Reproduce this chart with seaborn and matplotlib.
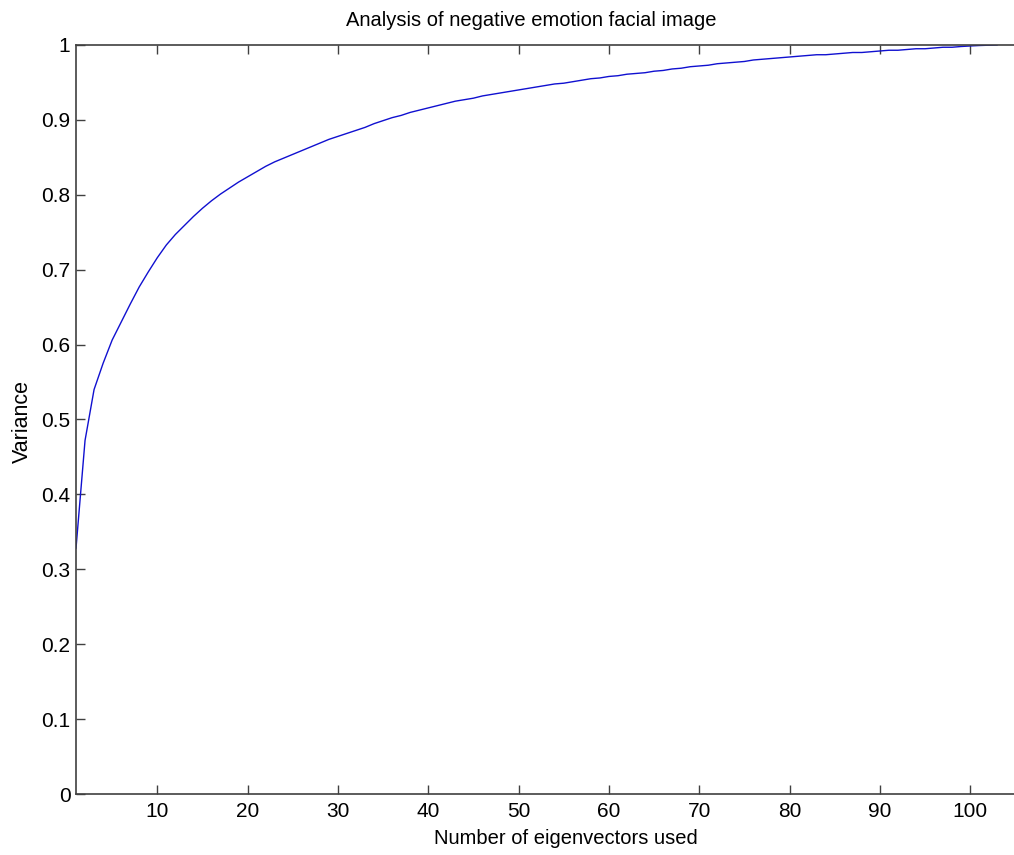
import numpy as np
import pandas as pd
import matplotlib
matplotlib.use("Agg")
import matplotlib.pyplot as plt
import seaborn as sns

# Data
eigenvectors = list(range(1, 104))
variance = [
    0.328, 0.472, 0.540, 0.575, 0.606, 0.630, 0.654, 0.677, 0.697, 0.716,
    0.733, 0.747, 0.759, 0.771, 0.782, 0.792, 0.801, 0.809, 0.817, 0.824,
    0.831, 0.838, 0.844, 0.849, 0.854, 0.859, 0.864, 0.869, 0.874, 0.878,
    0.882, 0.886, 0.890, 0.895, 0.899, 0.903, 0.906, 0.910, 0.913, 0.916,
    0.919, 0.922, 0.925, 0.927, 0.929, 0.932, 0.934, 0.936, 0.938, 0.940,
    0.942, 0.944, 0.946, 0.948, 0.949, 0.951, 0.953, 0.955, 0.956, 0.958,
    0.959, 0.961, 0.962, 0.963, 0.965, 0.966, 0.968, 0.969, 0.971, 0.972,
    0.973, 0.975, 0.976, 0.977, 0.978, 0.980, 0.981, 0.982, 0.983, 0.984,
    0.985, 0.986, 0.987, 0.987, 0.988, 0.989, 0.990, 0.990, 0.991, 0.992,
    0.993, 0.993, 0.994, 0.995, 0.995, 0.996, 0.997, 0.997, 0.998, 0.9987,
    0.9993, 0.9997, 1.0,
]
x_ticks = [10, 20, 30, 40, 50, 60, 70, 80, 90, 100]
y_ticks = [0, 0.1, 0.2, 0.3, 0.4, 0.5, 0.6, 0.7, 0.8, 0.9, 1]
y_tick_labels = ["0", "0.1", "0.2", "0.3", "0.4", "0.5", "0.6", "0.7", "0.8", "0.9", "1"]

title = "Analysis of negative emotion facial image"
xlabel = "Number of eigenvectors used"
ylabel = "Variance"

sns.set_style("white")
plt.rcParams["font.family"] = ["Liberation Sans", "DejaVu Sans"]
plt.rcParams["text.color"] = "black"

df = pd.DataFrame({"n": eigenvectors, "variance": variance})

W, H = 1014, 855
fig = plt.figure(figsize=(W / 100, H / 100), dpi=100)
ax = fig.add_axes([76 / W, (H - 794) / H, (W - 76) / W, (794 - 45) / H])

sns.lineplot(data=df, x="n", y="variance", ax=ax, color="#1010d0", linewidth=1.0)

ax.set_xlim(1, 104.85)
ax.set_ylim(0, 1)
ax.set_xticks(x_ticks)
ax.set_xticklabels([str(t) for t in x_ticks])
ax.set_yticks(y_ticks)
ax.set_yticklabels(y_tick_labels)
ax.set_xlabel("")
ax.set_ylabel("")

spine_color = "#404040"
for side in ["left", "bottom", "top"]:
    ax.spines[side].set_visible(True)
    ax.spines[side].set_color(spine_color)
    ax.spines[side].set_linewidth(1.2)
ax.spines["right"].set_visible(False)

ax.tick_params(axis="both", direction="in", length=6.5, width=1.0,
               color=spine_color, labelsize=15, labelcolor="black")
ax.tick_params(axis="x", top=True, bottom=True, pad=6)
ax.tick_params(axis="y", left=True, right=False, pad=4)

fig.text(531 / W, 1 - 20 / H, title, ha="center", va="center", fontsize=14.5, color="black")
fig.text(566 / W, 1 - 838 / H, xlabel, ha="center", va="center", fontsize=14.5, color="black")
fig.text(22 / W, 1 - 421 / H, ylabel, ha="center", va="center", fontsize=15.5,
         rotation=90, color="black")

fig.savefig("out.png", dpi=100)
